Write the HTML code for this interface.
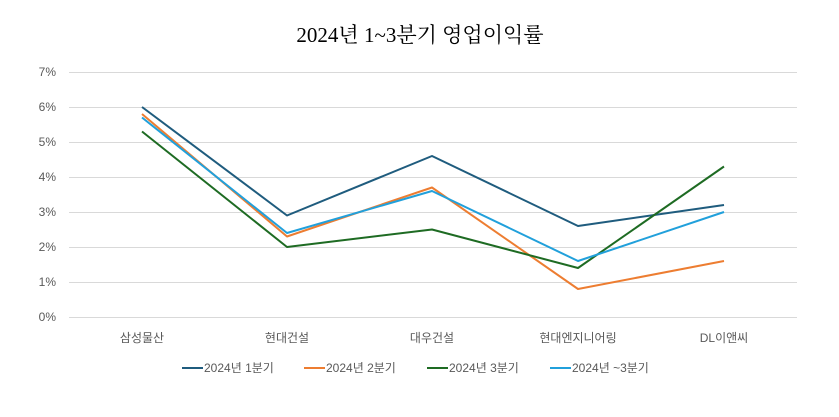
<!DOCTYPE html>
<html><head><meta charset="utf-8"><style>
body{margin:0;background:#fff}
svg{display:block}
text{font-family:"Liberation Sans","Noto Sans CJK KR",sans-serif;fill:#595959;font-size:12px}
</style></head><body>
<svg width="839" height="417" viewBox="0 0 839 417" xmlns="http://www.w3.org/2000/svg">
<text x="420" y="42" text-anchor="middle" style="font-family:'Liberation Serif','Noto Serif CJK SC',serif;font-size:21px;fill:#000">2024년 1~3분기 영업이익률</text>
<g stroke="#d9d9d9" stroke-width="1">
<line x1="69" x2="797" y1="72.5" y2="72.5"/><line x1="69" x2="797" y1="107.5" y2="107.5"/>
<line x1="69" x2="797" y1="142.5" y2="142.5"/><line x1="69" x2="797" y1="177.5" y2="177.5"/>
<line x1="69" x2="797" y1="212.5" y2="212.5"/><line x1="69" x2="797" y1="247.5" y2="247.5"/>
<line x1="69" x2="797" y1="282.5" y2="282.5"/><line x1="69" x2="797" y1="317.5" y2="317.5"/>
</g>
<g text-anchor="end">
<text x="56" y="76">7%</text><text x="56" y="111">6%</text><text x="56" y="146">5%</text><text x="56" y="181">4%</text>
<text x="56" y="216">3%</text><text x="56" y="251">2%</text><text x="56" y="286">1%</text><text x="56" y="321">0%</text>
</g>
<g text-anchor="middle">
<text x="142" y="342">삼성물산</text><text x="287" y="342">현대건설</text><text x="432" y="342">대우건설</text>
<text x="578" y="342">현대엔지니어링</text><text x="724" y="342">DL이앤씨</text>
</g>
<g fill="none" stroke-width="2" stroke-linejoin="round">
<polyline stroke="#1f5c7e" points="142,107 287,215.5 432,156 578,226 724,205"/>
<polyline stroke="#ed7d31" points="142,114 287,236.5 432,187.5 578,289 724,261"/>
<polyline stroke="#1e6b23" points="142,131.5 287,247 432,229.5 578,268 724,166.5"/>
<polyline stroke="#21a0db" points="142,117.5 287,233 432,191 578,261 724,212"/>
</g>
<g stroke-width="2">
<line x1="182" x2="203" y1="368" y2="368" stroke="#1f5c7e"/>
<line x1="304" x2="325" y1="368" y2="368" stroke="#ed7d31"/>
<line x1="427" x2="448" y1="368" y2="368" stroke="#1e6b23"/>
<line x1="550" x2="571" y1="368" y2="368" stroke="#21a0db"/>
</g>
<g style="font-size:13px">
<text x="204" y="372">2024년 1분기</text>
<text x="326" y="372">2024년 2분기</text>
<text x="449" y="372">2024년 3분기</text>
<text x="572" y="372">2024년 ~3분기</text>
</g>
</svg>
</body></html>
